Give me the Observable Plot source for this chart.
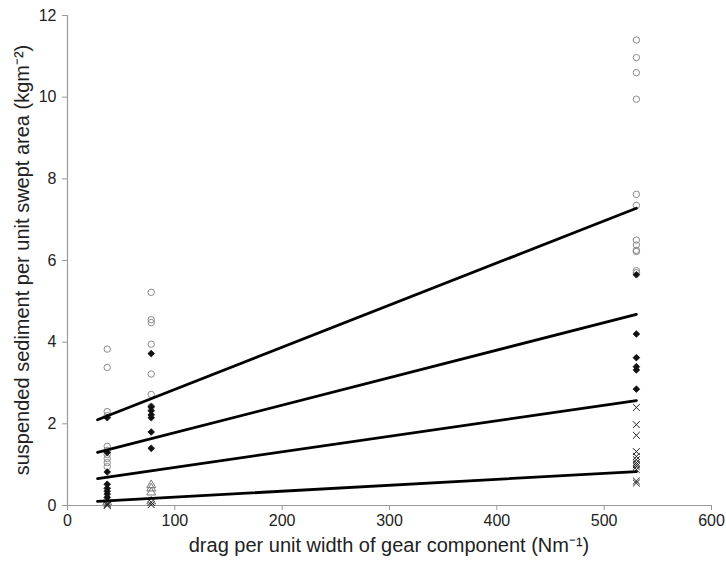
<!DOCTYPE html>
<html>
<head>
<meta charset="utf-8">
<script src="https://cdn.jsdelivr.net/npm/d3@7"></script>
<script src="https://cdn.jsdelivr.net/npm/@observablehq/plot@0.6"></script>
<style>
  html, body { margin: 0; padding: 0; background: #fff; }
  svg { display: block; }
</style>
</head>
<body>
<div id="chart"></div>
<script>
// drag per unit width (x positions of the three gear components)
const dragX = [37, 78, 530];

// open circles
const circles37 = [3.83, 3.38, 2.3, 2.2, 1.45, 1.35, 1.25, 1.15, 1.05, 0.95];
const circles78 = [5.22, 4.55, 4.48, 3.95, 3.22, 2.72, 2.42];
const circles530 = [11.4, 10.97, 10.6, 9.95, 7.62, 7.35, 6.5, 6.38, 6.25, 6.22, 5.75, 5.7];

// filled diamonds
const diamonds37 = [2.15, 1.3, 0.82, 0.52, 0.42, 0.35, 0.28, 0.2];
const diamonds78 = [3.72, 2.42, 2.32, 2.22, 2.15, 1.8, 1.4];
const diamonds530 = [5.65, 4.2, 3.62, 3.4, 3.32, 2.85];

// open triangles
const triangles37 = [0.15, 0.08];
const triangles78 = [0.5, 0.42, 0.32, 0.1];

// crosses
const crosses37 = [0.05, 0.02, 0.0];
const crosses78 = [0.08, 0.02];
const crosses530 = [2.4, 1.98, 1.72, 1.32, 1.2, 1.12, 1.05, 1.0, 0.95, 0.88, 0.6, 0.55];

// fitted lines (start / end x, and y at those x)
const lineX = [28, 530];
const lineA = [2.1, 7.28];
const lineB = [1.3, 4.68];
const lineC = [0.66, 2.57];
const lineD = [0.1, 0.83];

const xTicks = [0, 100, 200, 300, 400, 500, 600];
const yTicks = [0, 2, 4, 6, 8, 10, 12];

const xLabel = "drag per unit width of gear component (Nm⁻¹)";
const yLabel = "suspended sediment per unit swept area (kgm⁻²)";

const pts = (arrs) => arrs.flatMap((arr, i) => (arr || []).map(v => ({x: dragX[i], y: v})));
const circles = pts([circles37, circles78, circles530]);
const diamonds = pts([diamonds37, diamonds78, diamonds530]);
const triangles = pts([triangles37, triangles78]);
const crosses = pts([crosses37, crosses78, crosses530]);
const lines = [lineA, lineB, lineC, lineD].flatMap((l, k) =>
  l.map((v, i) => ({x: lineX[i], y: v, k})));

const axisColor = "#9a9a9a";
const font = "'Liberation Sans', Arial, sans-serif";

const chart = Plot.plot({
  width: 726,
  height: 561,
  marginLeft: 67,
  marginRight: 15,
  marginTop: 15,
  marginBottom: 56,
  style: {fontFamily: font, fontSize: "16px", color: "#222", background: "#fff"},
  x: {domain: [0, 600]},
  y: {domain: [0, 12]},
  marks: [
    Plot.axisX({ticks: xTicks, tickSize: 5, tickPadding: 4, stroke: axisColor, fill: "#222", fontSize: 16, label: null}),
    Plot.axisY({ticks: yTicks, tickSize: 5, tickPadding: 6, stroke: axisColor, fill: "#222", fontSize: 16, label: null}),
    Plot.ruleY([0], {stroke: axisColor, strokeWidth: 1.2}),
    Plot.ruleX([0], {stroke: axisColor, strokeWidth: 1.2}),
    Plot.dot(circles, {x: "x", y: "y", symbol: "circle", r: 3.2, stroke: "#8a8a8a", strokeWidth: 1, fill: "none"}),
    Plot.dot(triangles, {x: "x", y: "y", symbol: "triangle", r: 3.3, stroke: "#777", strokeWidth: 1, fill: "none"}),
    Plot.dot(crosses, {x: "x", y: "y", symbol: "times", r: 3.2, stroke: "#222", strokeWidth: 1}),
    Plot.dot(diamonds, {x: "x", y: "y", symbol: "diamond2", r: 3, fill: "#111", stroke: "#111", strokeWidth: 0.8}),
    Plot.line(lines, {x: "x", y: "y", z: "k", stroke: "#000", strokeWidth: 2.8})
  ]
});

const svg = d3.select(chart);
svg.append("text")
  .attr("x", 67 + (711 - 67) / 2)
  .attr("y", 552)
  .attr("text-anchor", "middle")
  .attr("font-family", font)
  .attr("font-size", 20)
  .attr("fill", "#222")
  .text(xLabel);
svg.append("text")
  .attr("transform", `translate(29, ${15 + 490 / 2}) rotate(-90)`)
  .attr("text-anchor", "middle")
  .attr("font-family", font)
  .attr("font-size", 20)
  .attr("fill", "#222")
  .text(yLabel);

document.getElementById("chart").appendChild(chart);
</script>
</body>
</html>
